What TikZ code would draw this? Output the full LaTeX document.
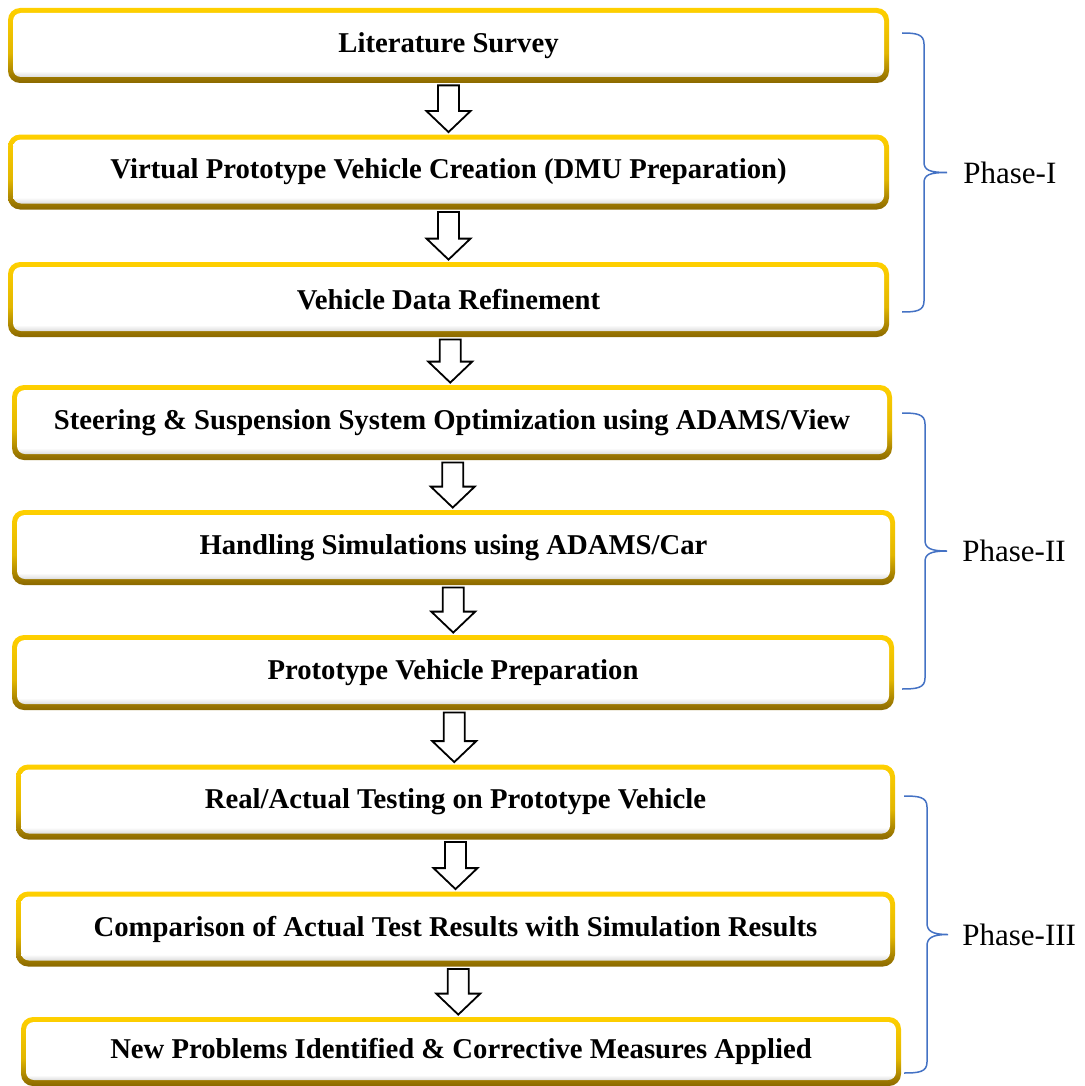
\documentclass[tikz,border=0pt]{standalone}
\usepackage{fontspec}
\setmainfont{Liberation Serif}
\usepackage{xcolor}
\usepackage{tikz}
\usetikzlibrary{calc}
\definecolor{ringtop}{RGB}{255, 208, 0}
\definecolor{ringbot}{RGB}{138, 104, 0}
\definecolor{braceblue}{RGB}{68, 114, 196}

\pgfdeclareverticalshading{goldring}{100bp}{color(0bp)=(ringbot); color(25bp)=(ringbot); color(45bp)=(ringtop!75!ringbot); color(75bp)=(ringtop); color(100bp)=(ringtop)}
\pgfdeclareverticalshading{whiteface}{100bp}{color(0bp)=(gray!55); color(25bp)=(gray!55); color(33bp)=(white); color(100bp)=(white)}

\tikzset{
  stepbox/.style={shading=goldring, rounded corners=6pt, minimum height=37.5pt, inner sep=0pt,
    font=\fontsize{14.35pt}{16pt}\selectfont\bfseries,
    path picture={\shade[shading=whiteface, rounded corners=4pt]
      ([shift={(2.5pt,3pt)}]path picture bounding box.south west) rectangle
      ([shift={(-2.5pt,-2.5pt)}]path picture bounding box.north east);}},
  blockarrow/.style={draw=black, fill=white, line width=0.9pt, line join=miter},
  phasebrace/.style={draw=braceblue, line width=0.75pt},
  phaselabel/.style={anchor=west, inner sep=0pt, font=\fontsize{15.5pt}{18pt}\selectfont}
}

% hollow down arrow between two boxes
\newcommand{\flowarrow}[2]{%
  \draw[blockarrow] let \p1=(#1.south), \p2=(#2.north), \p3=($(#1.south)!0.5!(#2.north)$) in
    (\x3-5.25pt,\y1-1pt) -- (\x3+5.25pt,\y1-1pt) -- (\x3+5.25pt,\y2+11.5pt) -- (\x3+11pt,\y2+11.5pt)
    -- (\x3,\y2+1pt) -- (\x3-11pt,\y2+11.5pt) -- (\x3-5.25pt,\y2+11.5pt) -- cycle;}

\begin{document}
\begin{tikzpicture}[x=0.5pt, y=-0.5pt]
			\useasboundingbox (0,0) rectangle (1085,1086);

			% PHASE I
			\node[stepbox, minimum width=440.5pt] (survey) at (448.5,45.5) {\raisebox{-0.6pt}{Literature Survey}};
			\node[stepbox, minimum width=440.5pt] (dmu) at (448.5,172) {\raisebox{-0.6pt}{Virtual Prototype Vehicle Creation (DMU Preparation)}};
			\node[stepbox, minimum width=440.5pt] (refine) at (448.5,299.5) {\raisebox{-0.6pt}{Vehicle Data Refinement}};

			% PHASE II
			\node[stepbox, minimum width=440pt] (steering) at (452,422.5) {\raisebox{-0.6pt}{Steering \& Suspension System Optimization using ADAMS/View}};
			\node[stepbox, minimum width=441.5pt] (handling) at (453.5,547.5) {\raisebox{-0.6pt}{Handling Simulations using ADAMS/Car}};
			\node[stepbox, minimum width=441pt] (preparation) at (453,672.5) {\raisebox{-0.6pt}{Prototype Vehicle Preparation}};

			% PHASE III
			\node[stepbox, minimum width=439.5pt] (testing) at (455.5,802) {\raisebox{-0.6pt}{Real/Actual Testing on Prototype Vehicle}};
			\node[stepbox, minimum width=439.5pt] (comparison) at (455.5,929) {\raisebox{-0.6pt}{Comparison of Actual Test Results with Simulation Results}};
			\node[stepbox, minimum width=440pt, minimum height=34.5pt] (problems) at (461,1051.5) {\raisebox{-0.6pt}{New Problems Identified \& Corrective Measures Applied}};

			% ARROWS
			\flowarrow{survey}{dmu}
			\flowarrow{dmu}{refine}
			\flowarrow{refine}{steering}
			\flowarrow{steering}{handling}
			\flowarrow{handling}{preparation}
			\flowarrow{preparation}{testing}
			\flowarrow{testing}{comparison}
			\flowarrow{comparison}{problems}

			% BRACES
			\coordinate (tipone) at (947,172.5);
			\draw[phasebrace] (902,33) .. controls (916,33) and (924,34) .. (924,44) -- (924,162)
				.. controls (924,170) and (929,172.5) .. (tipone)
				.. controls (929,172.5) and (924,175) .. (924,183) -- (924,301)
				.. controls (924,311) and (916,312) .. (902,312);
			\node[phaselabel] (phaseone) at (963,173) {Phase-I};

			\coordinate (tiptwo) at (947,551);
			\draw[phasebrace] (902,413) .. controls (917,413) and (925,414) .. (925,424) -- (925,540)
				.. controls (925,548) and (930,551) .. (tiptwo)
				.. controls (930,551) and (925,554) .. (925,562) -- (925,678)
				.. controls (925,688) and (917,689) .. (902,689);
			\node[phaselabel] (phasetwo) at (962,551) {Phase-II};

			\coordinate (tipthree) at (948,934.5);
			\draw[phasebrace] (904,796) .. controls (919,796) and (927,797) .. (927,807) -- (927,923)
				.. controls (927,931) and (932,934.5) .. (tipthree)
				.. controls (932,934.5) and (927,938) .. (927,946) -- (927,1062)
				.. controls (927,1072) and (919,1073) .. (904,1073);
			\node[phaselabel] (phasethree) at (962,935) {Phase-III};

		\end{tikzpicture}
\end{document}
